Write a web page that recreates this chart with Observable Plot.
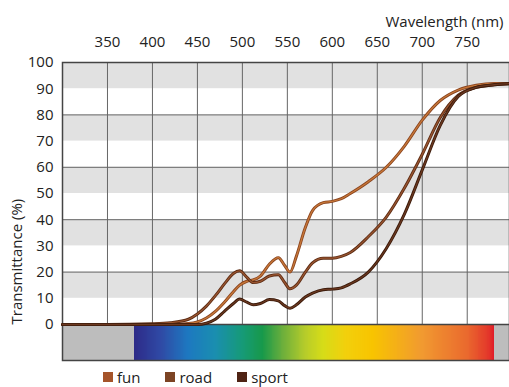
<!DOCTYPE html>
<html><head><meta charset="utf-8">
<script src="https://cdn.jsdelivr.net/npm/d3@7"></script>
<script src="https://cdn.jsdelivr.net/npm/@observablehq/plot@0.6"></script>
<style>
body{margin:0;background:#fff;font-family:"Open Sans",sans-serif;overflow:hidden}
#chart{position:absolute;left:0;top:0}
#legend{position:absolute;top:367px;left:103px;font-size:15px;color:#222;display:flex;align-items:center;white-space:nowrap}
#legend span.sw{display:inline-block;width:10px;height:10px;margin-right:4px}
#legend span.item{display:inline-flex;align-items:center;margin-right:25px;line-height:20px}
</style></head><body><div id="chart"></div><div id="legend"></div>
<script>
const seriesNames = ["fun", "road", "sport"];
const wavelengths = [300, 350, 400, 420, 440, 450, 460, 470, 480, 490, 497, 505, 512, 520, 530, 540, 547, 553, 560, 570, 578, 590, 600, 610, 620, 640, 660, 680, 700, 720, 740, 760, 780, 800];
const fun   = [0, 0, 0, 0.1, 0.4, 1, 2.5, 5, 8.5, 12.5, 15, 16.5, 17, 18.5, 23, 25.5, 22.5, 20, 26, 37, 43.5, 46.5, 47, 48, 50, 54.5, 60, 68, 78, 85.5, 89.5, 91.3, 92, 92];
const road  = [0, 0, 0.3, 0.7, 2, 4, 7, 11, 15.5, 19.5, 20.5, 18, 16, 16.5, 18.5, 19, 16, 13.6, 15, 20, 23.5, 25.3, 25.3, 26, 27.5, 33.5, 41, 52, 65, 79, 87.5, 90.5, 91.5, 92];
const sport = [0, 0, 0, 0, 0, 0, 0.5, 2, 5, 8, 9.7, 8.5, 7.5, 8, 9.5, 9, 7.2, 6.2, 7.5, 10.5, 12, 13.3, 13.5, 14, 15.5, 20, 29, 42, 59, 76, 87, 90.5, 91.5, 92];
const seriesInner = ["#c77838", "#9a5530", "#6b3820"];
const seriesOuter = ["#8a4420", "#5c2c14", "#3a1a0a"];
const legendColors = ["#a5542a", "#7c4424", "#4f2314"];
const xTicks = [350, 400, 450, 500, 550, 600, 650, 700, 750];
const yTicks = [0, 10, 20, 30, 40, 50, 60, 70, 80, 90, 100];
const spectrumStops = [
  [380, "#2d2a87"], [410, "#2f4aa5"], [440, "#1d78c0"], [470, "#1a8eb0"], [500, "#169a78"],
  [523, "#17994a"], [545, "#6aae3c"], [570, "#b6cc2a"], [590, "#d6dc18"], [615, "#f2d00c"],
  [645, "#f8c400"], [700, "#f19a30"], [750, "#ea6a2e"], [775, "#e3352a"], [780, "#e01a28"]
];

const xDomain = [300, 797];
const yBottom = -13.74;

const series = [fun, road, sport];
const rows = [];
seriesNames.forEach((s, i) => wavelengths.forEach((w, j) => rows.push({series: s, nm: w, t: series[i][j]})));

const stopNm = spectrumStops.map(d => d[0]);
const stopCol = spectrumStops.map(d => d[1]);
const specScale = d3.scaleLinear().domain(stopNm).range(stopCol).interpolate(d3.interpolateRgb);
const specCells = d3.range(stopNm[0], stopNm[stopNm.length - 1], 1).map(n => ({x1: n, x2: n + 2, fill: specScale(n + 0.5)}));
const greyCells = [{x1: xDomain[0], x2: stopNm[0]}, {x1: stopNm[stopNm.length - 1], x2: xDomain[1]}];
const bands = yTicks.filter(v => v % 20 === 10);
const hLines = yTicks.filter(v => v > 0 && v < 100 && v % 20 === 0);

const lineMarks = [];
seriesNames.forEach((s, i) => {
  const data = rows.filter(r => r.series === s);
  lineMarks.push(Plot.line(data, {x: "nm", y: "t", stroke: seriesOuter[i], strokeWidth: 3, curve: "monotone-x"}));
  lineMarks.push(Plot.line(data, {x: "nm", y: "t", stroke: seriesInner[i], strokeWidth: 1.3, curve: "monotone-x"}));
});

const chart = Plot.plot({
  width: 509, height: 365,
  marginLeft: 62, marginRight: 0, marginTop: 62, marginBottom: 5,
  style: {fontFamily: "Open Sans, sans-serif", fontSize: "15px", color: "#222", background: "#fff"},
  x: {domain: xDomain},
  y: {domain: [yBottom, 100]},
  marks: [
    Plot.rect(bands, {x1: xDomain[0], x2: xDomain[1], y1: d => d, y2: d => d + 10, fill: "#e1e1e1"}),
    Plot.ruleY(hLines, {x1: xDomain[0], x2: xDomain[1], stroke: "#666", strokeWidth: 1}),
    Plot.ruleX(xTicks, {y1: 0, y2: 100, stroke: "#666", strokeWidth: 1}),
    Plot.rect(specCells, {x1: "x1", x2: "x2", y1: yBottom, y2: 0, fill: "fill", shapeRendering: "crispEdges"}),
    Plot.rect(greyCells, {x1: "x1", x2: "x2", y1: yBottom, y2: 0, fill: "#bdbdbd", shapeRendering: "crispEdges"}),
    Plot.ruleY([0], {stroke: "#444", strokeWidth: 1.5}),
    Plot.frame({stroke: "#444", strokeWidth: 1.5}),
    ...lineMarks,
    Plot.axisX({anchor: "top", ticks: xTicks, tickSize: 0, tickPadding: 16, label: null, fontSize: 15}),
    Plot.axisY({anchor: "left", ticks: yTicks, tickSize: 0, tickPadding: 9, label: null, fontSize: 15}),
    Plot.text(["Wavelength (nm)"], {frameAnchor: "top-right", dx: -6, dy: -40, textAnchor: "end", lineAnchor: "middle", fontSize: 15}),
    Plot.text(["Transmittance (%)"], {x: xDomain[0], y: 0, rotate: -90, textAnchor: "start", dx: -45, fontSize: 15})
  ]
});
document.getElementById("chart").appendChild(chart);

const legend = document.getElementById("legend");
seriesNames.forEach((s, i) => {
  const item = document.createElement("span");
  item.className = "item";
  const sw = document.createElement("span");
  sw.className = "sw";
  sw.style.background = legendColors[i];
  item.appendChild(sw);
  item.appendChild(document.createTextNode(s));
  legend.appendChild(item);
});
</script></body></html>
